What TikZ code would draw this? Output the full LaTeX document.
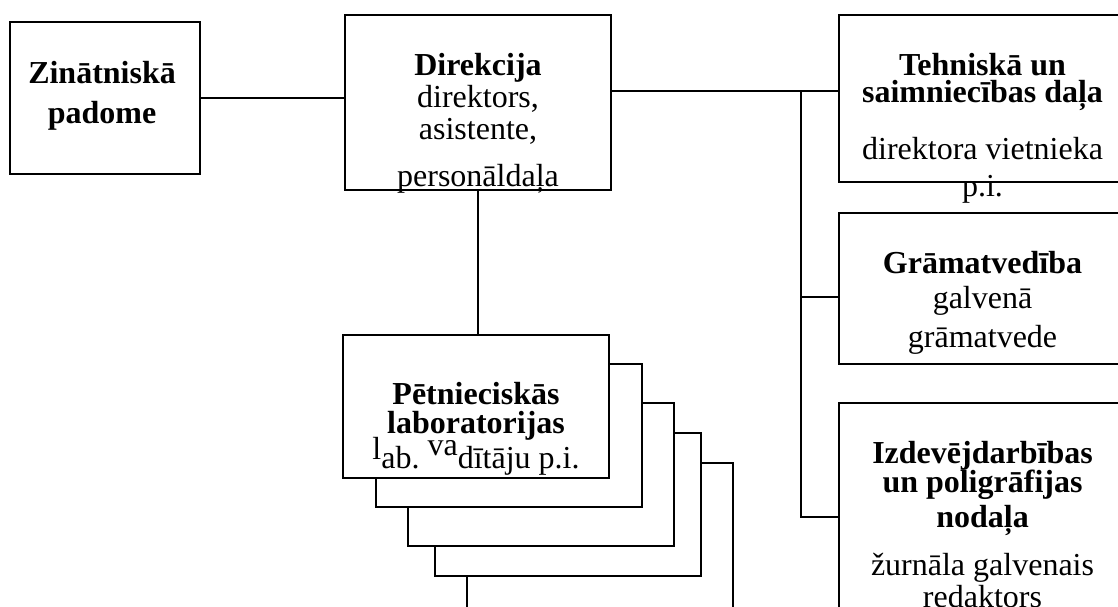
\documentclass[tikz,border=0pt]{standalone}
\usepackage{fontspec}
\setmainfont{Liberation Serif}
\usetikzlibrary{positioning}
\tikzset{
  unitbox/.style={draw,line width=0.75pt,fill=white,inner sep=0pt},
  labbox/.style={unitbox,minimum width=99.75pt,minimum height=53.6pt},
  sidebox/.style={unitbox,minimum width=107.6pt},
  boxtext/.style={align=center,inner sep=0pt,font=\fontsize{12}{12}\selectfont},
  link/.style={line width=0.75pt}
}

\begin{document}
\begin{tikzpicture}[x=0.375pt,y=-0.375pt]
\useasboundingbox (0,0) rectangle (1118,607);
\clip (0,0) rectangle (1118,607);
\node[unitbox,minimum width=71.25pt,minimum height=57pt] (zin) at (105,98) {};
\node[unitbox,minimum width=99.75pt,minimum height=65.6pt] (dir) at (478,102.5) {};
\node[sidebox,minimum height=62.6pt] (teh) at (982.5,98.5) {};
\node[sidebox,minimum height=56.6pt] (gram) at (982.5,288.5) {};
\node[sidebox,minimum height=92.6pt] (izd) at (982.5,526.5) {};
\foreach \i/\cx/\cy/\h in {5/600/536.3/55pt,4/568/504.5/53.6pt,3/541/474.5/53.6pt,2/509/435.5/53.6pt,1/476/406.5/53.6pt}
  \node[labbox,minimum height=\h] (lab\i) at (\cx,\cy) {};
\coordinate (bustop) at (801,91);
\coordinate (busmid) at (801,297);
\coordinate (busbot) at (801,517);
\draw[link] (zin.east) -- (zin.east -| dir.west);
\draw[link] (dir.south) -- (dir.south |- lab1.north);
\draw[link] (dir.east |- bustop) -- (teh.west |- bustop);
\draw[link] (bustop) -- (busbot) -- (izd.west |- busbot);
\draw[link] (busmid) -- (gram.west |- busmid);
\node[boxtext,below=15pt of zin.north,xshift=-1.1pt] (zintext)
  {\textbf{Zinātniskā}\\[3pt]\textbf{padome}};
\node[boxtext,below=14.6pt of dir.north] (dirtext)
  {\textbf{Direkcija}\\direktors,\\asistente,\\[5.6pt]personāldaļa};
\node[boxtext,below=14.6pt of teh.north] (tehtext)
  {\textbf{Tehniskā un}\\[-2pt]\textbf{saimniecības daļa}\\[9.4pt]direktora vietnieka\\[1.9pt]p.i.};
\node[boxtext,below=14.6pt of gram.north] (gramtext)
  {\textbf{Grāmatvedība}\\[1.1pt]galvenā\\[2.6pt]grāmatvede};
\node[boxtext,below=14.6pt of izd.north] (izdtext)
  {\textbf{Izdevējdarbības}\\[-1.1pt]\textbf{un poligrāfijas}\\[1.1pt]\textbf{nodaļa}\\[6pt]žurnāla galvenais\\redaktors};
\node[boxtext,below=18pt of lab1.north] (labtext)
  {\textbf{Pētnieciskās}\\[-1.3pt]\textbf{laboratorijas}\\[1.2pt]\smash{\raisebox{3.5pt}{l}}ab.\ \smash{\raisebox{5pt}{va}}dītāju p.i.};
\end{tikzpicture}
\end{document}
